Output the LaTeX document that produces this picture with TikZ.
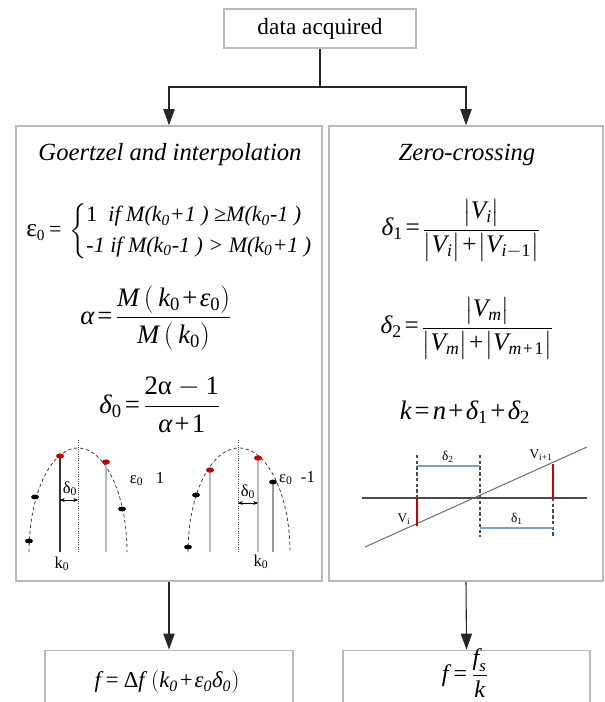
\documentclass[tikz,border=0pt]{standalone}
\usepackage{amsmath}
\usepackage{fontspec}
\setmainfont{Liberation Serif}
\usetikzlibrary{arrows.meta}
\newcommand\ti[1]{\text{\itshape #1}}
\newcommand\tu[1]{\text{\upshape #1}}
\newcommand\eqq{\mathord{\mkern2mu\tu{=}\mkern2mu}}
\newcommand\pl{\mathord{\mkern1.5mu\tu{+}\mkern1.5mu}}
\newcommand\ab[1]{\bigl|#1\bigr|}
\begin{document}
\begin{tikzpicture}[x=0.75pt,y=-0.75pt,
  box/.style={draw=gray!55, line width=1.2pt, fill=white, inner sep=0pt},
  conn/.style={draw=black!85, line width=0.8pt},
  arr/.style={conn, -{Triangle[length=12pt,width=8.5pt]}},
  dcurve/.style={draw=black!75, line width=0.6pt, dash pattern=on 2.5pt off 2pt},
  stem/.style={line width=1pt},
  blk/.style={fill=black},
  rd/.style={fill=red!80!black},
  lbl/.style={inner sep=0pt, font=\fontsize{12.5}{14}\selectfont},
  slbl/.style={inner sep=0pt, font=\fontsize{10}{12}\selectfont},
  bline/.style={draw={rgb,255:red,120;green,160;blue,200}, line width=0.8pt},
  rline/.style={draw=red!80!black, line width=1.1pt},
  vdash/.style={draw=black!70, line width=0.8pt, dash pattern=on 2.5pt off 1.8pt},
  fml/.style={inner sep=0pt, font=\fontsize{19}{22}\selectfont}]
\useasboundingbox (0,0) rectangle (604,702);
\clip (0,0) rectangle (604,702);
\fill[white] (0,0) rectangle (604,702);

% boxes
\node[box, line width=1pt, minimum width=144pt, minimum height=29.25pt] (top) at (320,28.5)
  {\fontsize{17.5}{20}\selectfont data acquired};
\node[box, minimum width=229.5pt, minimum height=341.25pt] (gz) at (169,353.5) {};
\node[box, minimum width=205.5pt, minimum height=341.25pt] (zc) at (466,353.5) {};
\node[box, minimum width=186pt, minimum height=52pt] (fl) at (169,685) {};
\node[box, minimum width=185.25pt, minimum height=52pt] (fr) at (466.5,685) {};

% connectors
\coordinate (j) at (320,87);
\draw[conn] (top.south) -- (j);
\draw[arr] (j) -| (gz.north);
\draw[arr] (j) -| (zc.north);
\draw[arr] (gz.south) -- (fl.north);
\draw[arr] (zc.south) -- (fr.north);

% titles
\node (gzt) at (170,155) {\fontsize{18.5}{22}\selectfont\itshape Goertzel and interpolation};
\node (zct) at (467,155) {\fontsize{18.5}{22}\selectfont\itshape Zero-crossing};

% left formulas
\node[anchor=west, inner sep=0pt] (eps) at (26,231) {\fontsize{16.5}{22.5}\selectfont
  $\text{\fontsize{19}{22}\selectfont ε}_{\tu{0}}\mkern3mu\tu{=}\mkern3mu\left\{\begin{tabular}{@{}l@{}}
  1\ \ \textit{if M(k$_{\ti{0}}$+1 ) ≥M(k$_{\ti{0}}$-1 )}\\
  \textit{-1 if M(k$_{\ti{0}}$-1 ) > M(k$_{\ti{0}}$+1 )}
  \end{tabular}\right.$};
\node[fml, font=\fontsize{20}{24}\selectfont] (alpha) at (156,318)
  {$\ti{α}\eqq\dfrac{\ti{M}\,(\,\ti{k}_{\tu{0}}\pl\ti{ε}_{\tu{0}})}{\ti{M}\,(\,\ti{k}_{\tu{0}})}$};
\node[fml, font=\fontsize{20}{24}\selectfont] (delta0) at (160,405)
  {$\ti{δ}_{\tu{0}}\eqq\dfrac{\tu{2α}-\tu{1}}{\ti{α}\pl\tu{1}}$};

% right formulas
\node[fml] (d1) at (461,230)
  {$\ti{δ}_{\tu{1}}\eqq\dfrac{\ab{\ti{V}_{\ti{i}}}}{\ab{\ti{V}_{\ti{i}}}\pl\ab{\ti{V}_{\ti{i}-\tu{1}}}}$};
\node[fml] (d2) at (467,328)
  {$\ti{δ}_{\tu{2}}\eqq\dfrac{\ab{\ti{V}_{\ti{m}}}}{\ab{\ti{V}_{\ti{m}}}\pl\ab{\ti{V}_{\ti{m}\pl\tu{1}}}}$};
\node[fml, font=\fontsize{20}{24}\selectfont] (keq) at (465,412)
  {$\ti{k}\eqq\ti{n}\pl\ti{δ}_{\tu{1}}\pl\ti{δ}_{\tu{2}}$};

% bottom formulas
\node[fml, font=\fontsize{17}{20}\selectfont] (feq1) at (167,682)
  {$\ti{f}\mkern4mu\tu{=}\mkern4mu\tu{Δ}\ti{f}\;(\ti{k}_{\ti{0}}\pl\ti{ε}_{\ti{0}}\ti{δ}_{\ti{0}})$};
\node[fml, font=\fontsize{18}{21}\selectfont] (feq2) at (465,673)
  {$\ti{f}\mkern4mu\tu{=}\mkern3mu\dfrac{\ti{f}_{\ti{s}}}{\ti{k}}$};

% left graph (eps0 = 1)
\draw[dcurve] plot[domain=180:0,samples=60] ({78+49*cos(\x)},{552-104*sin(\x)});
\draw[draw=black!80, stem] (60,456) -- (60,552);
\draw[densely dotted, draw=black!70, line width=0.7pt] (78,440) -- (78,552);
\draw[draw=gray!55, stem] (106,462) -- (106,552);
\draw[{Stealth[length=3.5pt,width=3pt]}-{Stealth[length=3.5pt,width=3pt]}, line width=0.5pt] (60,500) -- (78,500);
\fill[blk] (29,541) ellipse [x radius=3pt, y radius=1.8pt];
\fill[blk] (35,497) ellipse [x radius=3pt, y radius=1.8pt];
\fill[rd] (60,456) ellipse [x radius=3pt, y radius=2pt];
\fill[rd] (106,462) ellipse [x radius=3pt, y radius=2pt];
\fill[blk] (122,509) ellipse [x radius=3pt, y radius=1.8pt];
\node[lbl] (dl) at (70,489) {δ$_{\tu{0}}$};
\node[lbl] (el) at (147,479) {ε$_{\tu{0}}$\ \ \ 1};
\node[lbl] (kl) at (62,564) {k$_{\tu{0}}$};

% right graph (eps0 = -1)
\draw[dcurve] plot[domain=180:0,samples=60] ({239+51*cos(\x)},{552-104*sin(\x)});
\draw[draw=gray!55, stem] (210,470) -- (210,552);
\draw[densely dotted, draw=black!70, line width=0.7pt] (238,440) -- (238,552);
\draw[draw=gray!55, stem] (258,458) -- (258,552);
\draw[draw=gray!80, line width=1.4pt] (273,482) -- (273,552);
\draw[{Stealth[length=3.5pt,width=3pt]}-{Stealth[length=3.5pt,width=3pt]}, line width=0.5pt] (238,503) -- (258,503);
\fill[blk] (188,547) ellipse [x radius=3pt, y radius=1.8pt];
\fill[blk] (196,495) ellipse [x radius=3pt, y radius=1.8pt];
\fill[rd] (210,470) ellipse [x radius=3pt, y radius=2pt];
\fill[rd] (258,458) ellipse [x radius=3pt, y radius=2pt];
\fill[blk] (273,482) ellipse [x radius=3pt, y radius=1.8pt];
\node[lbl] (dr) at (248,492) {δ$_{\tu{0}}$};
\node[lbl] (er) at (297,478) {ε$_{\tu{0}}$\ \ -1};
\node[lbl] (kr) at (261,562) {k$_{\tu{0}}$};

% zero-crossing graph
\draw[vdash] (417,455) -- (417,498);
\draw[vdash] (480,455) -- (480,537);
\draw[vdash] (553,498) -- (553,538);
\draw[draw=black!70, line width=0.9pt] (362,498) -- (587,498);
\draw[draw={rgb,255:red,85;green,110;blue,90}, line width=0.7pt] (365,547) -- (587,447);
\draw[rline] (417,498) -- (417,526);
\draw[rline] (553,464) -- (553,498);
\draw[bline] (417,466) -- (480,466);
\draw[bline] (480,528) -- (553,528);
\node[slbl] (ld2) at (448,457) {δ$_{\tu{2}}$};
\node[slbl] (ld1) at (517,519) {δ$_{\tu{1}}$};
\node[slbl] (lvi) at (404,519) {V$_{\tu{i}}$};
\node[slbl] (lvi1) at (541,455) {V$_{\tu{i+1}}$};
\end{tikzpicture}
\end{document}
